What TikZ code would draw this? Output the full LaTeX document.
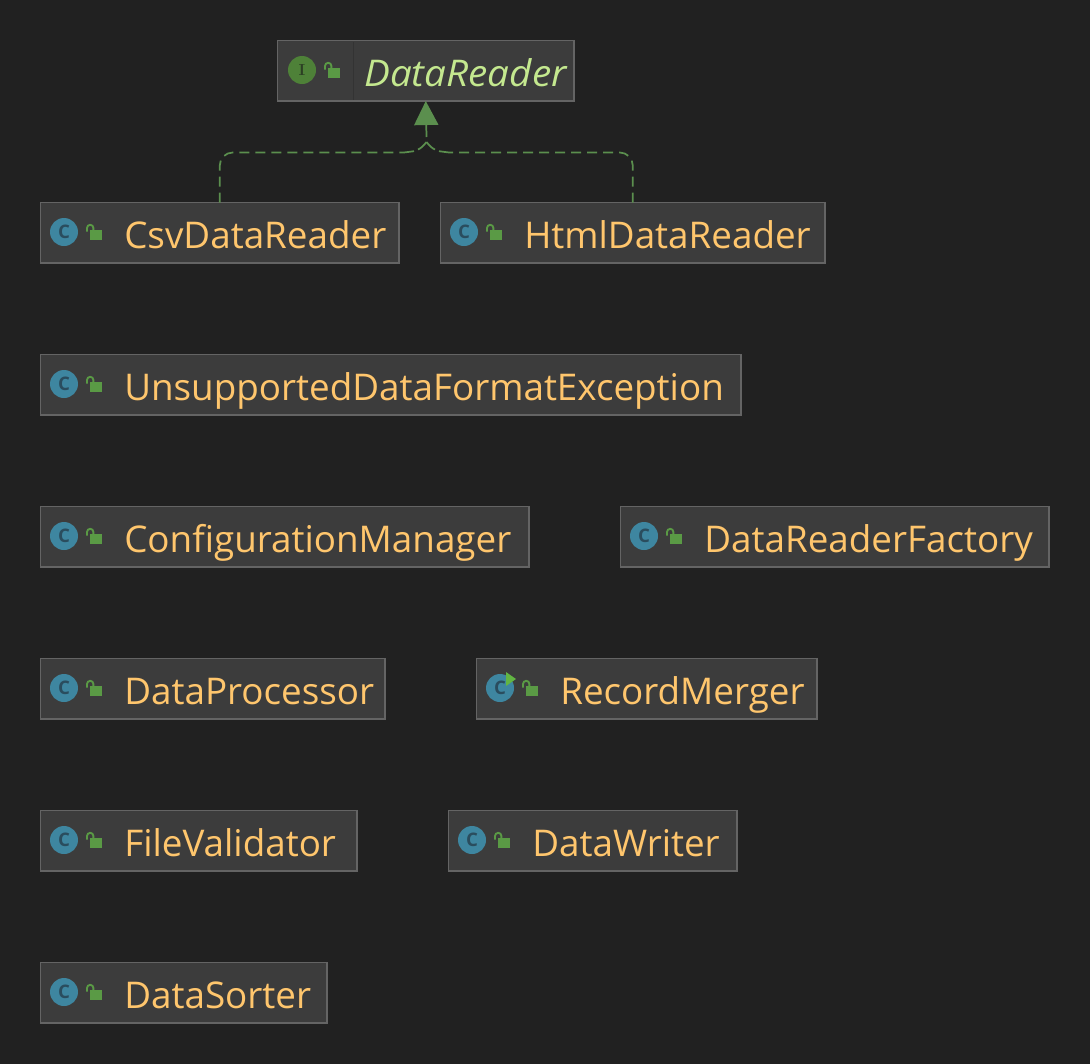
\documentclass[tikz,border=0pt]{standalone}
\usepackage{fontspec}
\setsansfont{Open Sans}[ItalicFeatures={FakeStretch=1.05}]
\usetikzlibrary{arrows.meta}

\definecolor{canvas}{HTML}{212121}
\definecolor{boxfill}{HTML}{3C3C3C}
\definecolor{boxedge}{HTML}{646464}
\definecolor{classtext}{HTML}{FFC66D}
\definecolor{ifacetext}{HTML}{C4E88F}
\definecolor{classblue}{HTML}{3E86A0}
\definecolor{classglyph}{HTML}{2A4D5E}
\definecolor{ifacegreen}{HTML}{4E8138}
\definecolor{ifaceglyph}{HTML}{2C3F24}
\definecolor{lockgreen}{HTML}{5A9A45}
\definecolor{runarrow}{HTML}{62B543}
\definecolor{edgegreen}{HTML}{5B8F4E}

\tikzset{
  classbox/.style={draw=boxedge, fill=boxfill, line width=0.85pt, anchor=north west, minimum height=45.4pt, inner sep=0pt, outer sep=0pt},
  classlabel/.style={anchor=base west, inner sep=0pt, text=classtext, font=\sffamily\fontsize{27.6}{32}\selectfont},
  ifacelabel/.style={classlabel, text=ifacetext, font=\sffamily\itshape\fontsize{27.6}{32}\selectfont},
  classicon/.style={circle, fill=classblue, minimum size=21pt, inner sep=0pt, text=classglyph, font=\sffamily\bfseries\fontsize{14}{14}\selectfont},
  ifaceicon/.style={circle, fill=ifacegreen, minimum size=21pt, inner sep=0pt, text=ifaceglyph, font=\bfseries\fontsize{12}{12}\selectfont},
  implements/.style={draw=edgegreen, line width=1.3pt},
  lock/.pic={
    \fill[lockgreen] (0,-5) rectangle (12,5);
    \draw[lockgreen, line width=1.4pt] (-3,-3.5) -- (-3,-7) arc[start angle=180, end angle=360, radius=3.2] -- (3.4,-5);
  }
}

\begin{document}
\begin{tikzpicture}[x=0.75pt, y=-0.75pt]
\fill[canvas] (0,0) rectangle (1090,1064);
\useasboundingbox (0,0) rectangle (1090,1064);

\node[classbox, minimum width=222.4pt] (reader) at (277.5,40.5) {};
\draw[line width=0.75pt, draw=black, opacity=0.15] (353.5,42) -- (353.5,100);
\node[ifaceicon] (readericon) at (302,70) {I};
\pic at (328,73) {lock};
\node[ifacelabel] (readerlabel) at (364,86) {DataReader};

\node[classbox, minimum width=268.9pt] (csv) at (40.5,202.5) {};
\node[classicon] (csvicon) at (64,232) {C};
\pic at (90,235) {lock};
\node[classlabel] (csvlabel) at (124,248) {CsvDataReader};

\node[classbox, minimum width=288.4pt] (html) at (440.5,202.5) {};
\node[classicon] (htmlicon) at (464,232) {C};
\pic at (490,235) {lock};
\node[classlabel] (htmllabel) at (524,248) {HtmlDataReader};

\node[classbox, minimum width=525.4pt] (unsupported) at (40.5,354.5) {};
\node[classicon] (unsupportedicon) at (64,384) {C};
\pic at (90,387) {lock};
\node[classlabel] (unsupportedlabel) at (124,400) {UnsupportedDataFormatException};

\node[classbox, minimum width=366.4pt] (config) at (40.5,506.5) {};
\node[classicon] (configicon) at (64,536) {C};
\pic at (90,539) {lock};
\node[classlabel] (configlabel) at (124,552) {ConfigurationManager};

\node[classbox, minimum width=321.4pt] (factory) at (620.5,506.5) {};
\node[classicon] (factoryicon) at (644,536) {C};
\pic at (670,539) {lock};
\node[classlabel] (factorylabel) at (704,552) {DataReaderFactory};

\node[classbox, minimum width=258.4pt] (processor) at (40.5,658.5) {};
\node[classicon] (processoricon) at (64,688) {C};
\pic at (90,691) {lock};
\node[classlabel] (processorlabel) at (124,704) {DataProcessor};

\node[classbox, minimum width=255.4pt] (merger) at (476.5,658.5) {};
\node[classicon] (mergericon) at (500,688) {C};
\fill[runarrow] (506,672) -- (516,679) -- (506,686) -- cycle;
\pic at (526,691) {lock};
\node[classlabel] (mergerlabel) at (560,704) {RecordMerger};

\node[classbox, minimum width=237.4pt] (validator) at (40.5,810.5) {};
\node[classicon] (validatoricon) at (64,840) {C};
\pic at (90,843) {lock};
\node[classlabel] (validatorlabel) at (124,856) {FileValidator};

\node[classbox, minimum width=216.4pt] (writer) at (448.5,810.5) {};
\node[classicon] (writericon) at (472,840) {C};
\pic at (498,843) {lock};
\node[classlabel] (writerlabel) at (532,856) {DataWriter};

\node[classbox, minimum width=214.9pt] (sorter) at (40.5,962.5) {};
\node[classicon] (sortericon) at (64,992) {C};
\pic at (90,995) {lock};
\node[classlabel] (sorterlabel) at (124,1008) {DataSorter};

% implements edges
\coordinate (merge) at (426.5,142);
\coordinate (stem) at (426.5,137);
\coordinate (leftrun) at (404,152.5);
\coordinate (rightrun) at (449,152.5);
\coordinate (leftend) at (414,151.2);
\coordinate (rightend) at (439,151.2);
\coordinate (leftcap) at (418,149.5);
\coordinate (rightcap) at (435,149.5);

\draw[implements, dash pattern=on 7.5pt off 4.5pt, rounded corners=9.75pt] (csv.north) |- (leftrun);
\draw[implements] (leftrun) -- (leftend);
\draw[implements] (leftcap) .. controls (421,148.5) and (424,145) .. (merge);
\draw[implements, dash pattern=on 7.5pt off 4.5pt, rounded corners=9.75pt] (html.north) |- (rightrun);
\draw[implements] (rightrun) -- (rightend);
\draw[implements] (rightcap) .. controls (432,148.5) and (429,145) .. (merge);
\draw[implements, -{Triangle[length=18pt, width=18pt]}] (stem) -- (reader.south);
\end{tikzpicture}
\end{document}
